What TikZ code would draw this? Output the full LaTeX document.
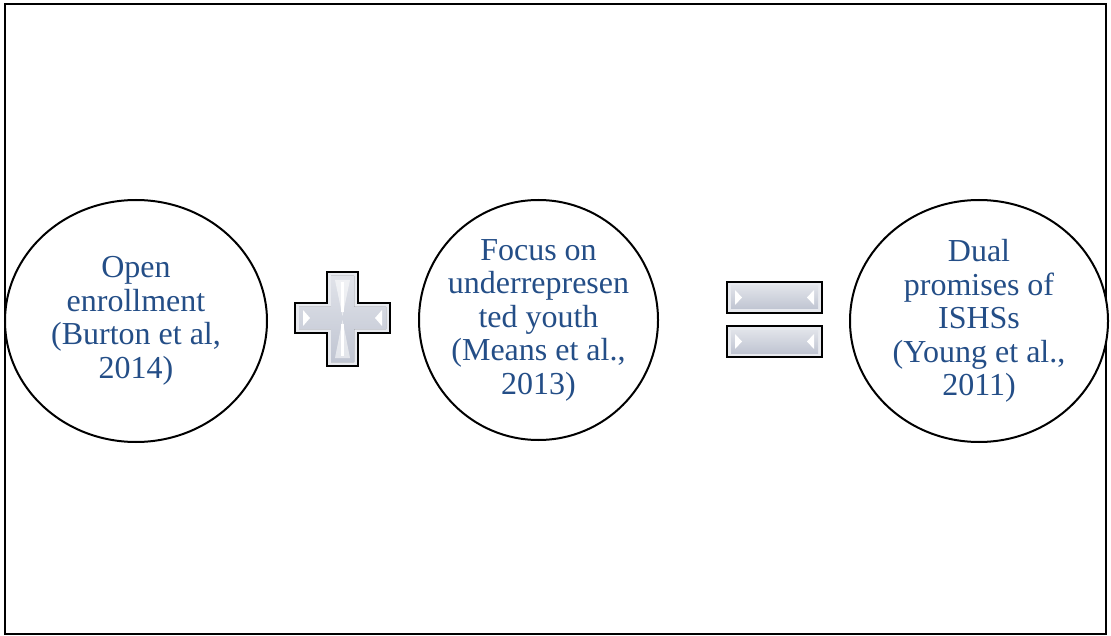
\documentclass[tikz,border=0pt]{standalone}
\usepackage{fontspec}
\setmainfont{Liberation Serif}
\usepackage{xcolor}
\definecolor{ColText}{RGB}{36,78,135}
\definecolor{ColSign}{RGB}{204,208,219}
\definecolor{ColSignHi}{RGB}{232,234,239}
\definecolor{ColSignLo}{RGB}{192,197,210}
\usepackage{tikz}
\usetikzlibrary{shapes}
\tikzstyle{Frame}=[draw=black,line width=1.3pt]
\tikzstyle{Bubble}=[ellipse,draw=black,line width=2pt,fill=white,inner sep=0pt]
\tikzstyle{BubbleText}=[align=center,text=ColText,inner sep=0pt,
font=\fontsize{32}{33.5}\selectfont]
\tikzstyle{SignOut}=[draw=black,line width=1.5pt,fill=ColSignHi]
\tikzstyle{SignIn}=[draw=none,top color=ColSign!60!white,bottom color=ColSignLo]
\tikzstyle{Glint}=[fill=white,draw=none]

\begin{document}
\begin{tikzpicture}[x=1pt,y=-1pt]
        \useasboundingbox(0,0)rectangle(1111,636);
        \draw[Frame](5,4)rectangle(1106,634);
        \node[Bubble,minimum width=262pt,minimum height=242pt](open)at(136,321){};
        \node[Bubble,minimum width=239pt,minimum height=240pt](focus)at(538.5,320){};
        \node[Bubble,minimum width=258pt,minimum height=242pt](dual)at(979,321){};
        \node[BubbleText](openT)at(open.center){Open\\enrollment\\(Burton et al,\\2014)};
        \node[BubbleText](focusT)at(focus.center)
            {Focus on\\underrepresen\\ted youth\\(Means et al.,\\2013)};
        \node[BubbleText](dualT)at(dual.center)
            {Dual\\promises of\\ISHSs\\(Young et al.,\\2011)};
        \draw[SignOut](327,272)--(358,272)--(358,303)--(390,303)--(390,333)--(358,333)
            --(358,366)--(327,366)--(327,333)--(295,333)--(295,303)--(327,303)--cycle;
        \fill[SignIn](331,276)--(354,276)--(354,307)--(386,307)--(386,329)--(354,329)
            --(354,362)--(331,362)--(331,329)--(299,329)--(299,307)--(331,307)--cycle;
        \fill[Glint,opacity=.55](335,280)--(350,280)--(342.5,316)--cycle;
        \fill[Glint,opacity=.55](335,358)--(350,358)--(342.5,320)--cycle;
        \fill[Glint](341,282)rectangle(344,312);
        \fill[Glint](341,324)rectangle(344,356);
        \fill[Glint](303,310)--(310,318)--(303,326)--cycle;
        \fill[Glint](382,310)--(375,318)--(382,326)--cycle;
        \draw[SignOut](727,282)rectangle(822,313);
        \fill[SignIn](731,286)rectangle(818,309);
        \fill[Glint](735,290)--(742,297.5)--(735,305)--cycle;
        \fill[Glint](814,290)--(807,297.5)--(814,305)--cycle;
        \draw[SignOut](727,326)rectangle(822,357);
        \fill[SignIn](731,330)rectangle(818,353);
        \fill[Glint](735,334)--(742,341.5)--(735,349)--cycle;
        \fill[Glint](814,334)--(807,341.5)--(814,349)--cycle;
    \end{tikzpicture}
\end{document}
